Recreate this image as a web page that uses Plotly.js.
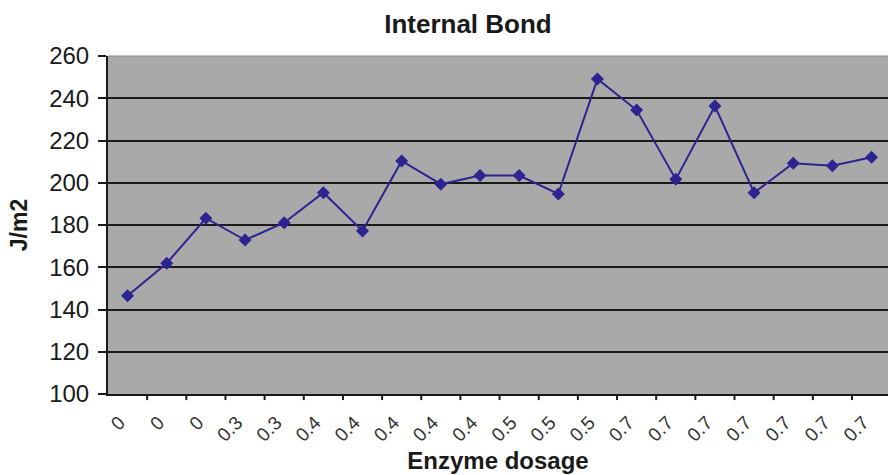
<!DOCTYPE html>
<html>
<head>
<meta charset="utf-8">
<script src="https://cdn.plot.ly/plotly-3.0.1.min.js"></script>
<style>
  html, body { margin: 0; padding: 0; background: #ffffff; }
  #chart { width: 888px; height: 475px; }
</style>
</head>
<body>
<div id="chart"></div>
<script>
// Enzyme dosage per sample (category labels along the x axis)
const dosageLabels = ["0", "0", "0", "0.3", "0.3", "0.4", "0.4", "0.4", "0.4", "0.4",
                      "0.5", "0.5", "0.5", "0.7", "0.7", "0.7", "0.7", "0.7", "0.7", "0.7"];

// Internal bond strength, J/m2
const internalBond = [146.5, 161.9, 183.2, 172.9, 181.1, 195.3, 177.2, 210.3, 199.3, 203.4,
                      203.4, 194.7, 249.1, 234.4, 201.6, 236.3, 195.3, 209.2, 208.1, 212.1];

// Sample positions on the category axis
const sampleIndex = dosageLabels.map((_, i) => i);

const trace = {
  type: "scatter",
  mode: "lines+markers",
  x: sampleIndex,
  y: internalBond,
  line: { color: "#2d2391", width: 2 },
  marker: { symbol: "diamond", size: 10, color: "#2d2391" },
  hoverinfo: "y"
};

const font = "Liberation Sans, Arial, sans-serif";

const layout = {
  width: 888,
  height: 475,
  margin: { l: 108, r: 0, t: 56, b: 81 },
  paper_bgcolor: "#ffffff",
  plot_bgcolor: "#a9a9a9",
  showlegend: false,
  title: {
    text: "<b>Internal Bond</b>",
    font: { family: font, size: 26, color: "#1a1a1a" },
    x: 0.527, xanchor: "center",
    y: 0.949, yanchor: "middle"
  },
  xaxis: {
    type: "linear",
    range: [-0.5, 19.42],
    tickmode: "array",
    tickvals: sampleIndex,
    ticktext: dosageLabels,
    tickangle: -45,
    ticks: "",
    showgrid: false,
    zeroline: false,
    showline: true,
    linecolor: "#1a1a1a",
    linewidth: 2,
    tickfont: { family: font, size: 19, color: "#333333" },
    ticklabelshift: -8,
    ticklabelstandoff: 8,
    title: {
      text: "<b>Enzyme dosage</b>",
      font: { family: font, size: 24, color: "#1a1a1a" },
      standoff: 8
    },
    automargin: false,
    fixedrange: true
  },
  yaxis: {
    range: [100, 260],
    tick0: 100,
    dtick: 20,
    ticks: "outside",
    ticklen: 8,
    tickwidth: 2,
    tickcolor: "#1a1a1a",
    showgrid: true,
    gridcolor: "#1a1a1a",
    gridwidth: 2,
    zeroline: false,
    showline: true,
    linecolor: "#1a1a1a",
    linewidth: 2,
    tickfont: { family: font, size: 24, color: "#1a1a1a" },
    ticklabelstandoff: 4,
    title: {
      text: "<b>J/m2</b>",
      font: { family: font, size: 23, color: "#1a1a1a" },
      standoff: 15
    },
    automargin: false,
    fixedrange: true
  },
  shapes: [
    // category boundary tick marks below the x axis
    ...dosageLabels.slice(1).map((_, i) => ({
      type: "line",
      xref: "x", yref: "paper",
      x0: i + 0.5, x1: i + 0.5,
      y0: 0, y1: -0.018,
      line: { color: "#1a1a1a", width: 2 }
    })),
    // light frame along the top of the plotting area
    {
      type: "line", xref: "paper", yref: "paper",
      x0: 0, x1: 1, y0: 1, y1: 1,
      line: { color: "#8a8a8a", width: 1 }
    }
  ]
};

Plotly.newPlot("chart", [trace], layout, { displayModeBar: false, staticPlot: true });
</script>
</body>
</html>
